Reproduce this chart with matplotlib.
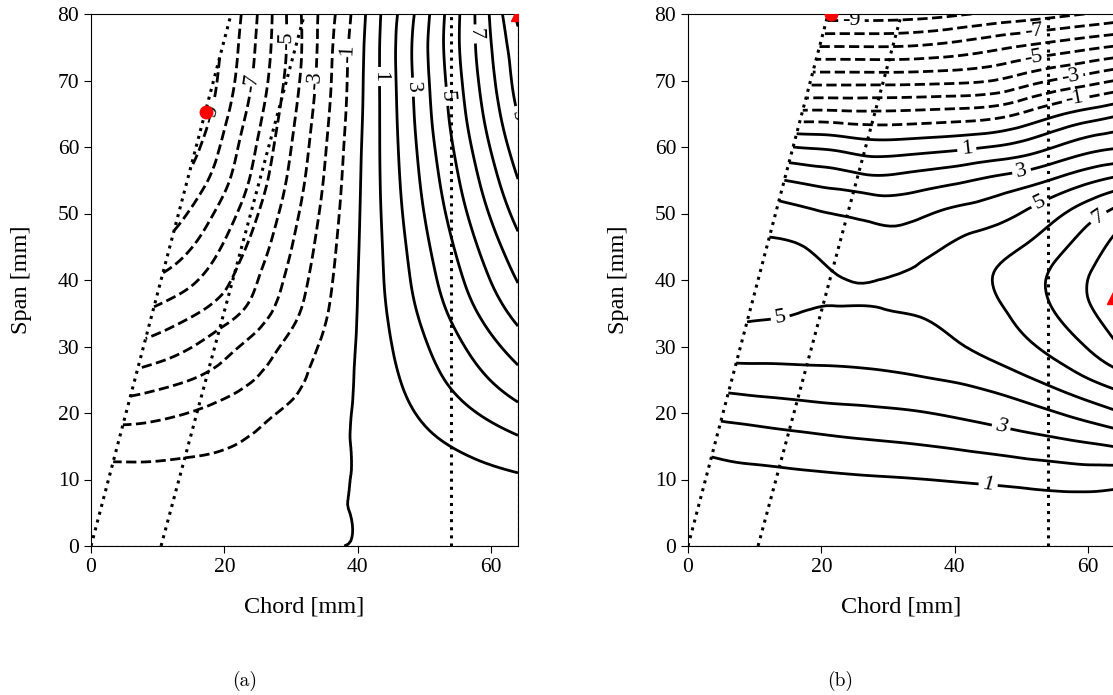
import numpy as np
import matplotlib
matplotlib.use("Agg")
import matplotlib.pyplot as plt
import matplotlib.tri as mtri

plt.rcParams['font.family'] = ['Liberation Serif', 'DejaVu Serif']

# wing planform [mm]
root_chord = 64.0
span_len = 80.0
le_tip = 21.0                      # leading edge chord position at the tip
spar_line = ([10.5, 32.0], [0.0, 80.0])
rib_x = 54.0

# measurement stations: spanwise, and chordwise as fraction of the local chord
span = np.arange(0, 81, 5)
frac = np.linspace(0, 1, 9)

# mode shape (a), rows = span stations (root -> tip), cols = chord fractions (LE -> TE)
mode_a = np.array([
    [-0.1, -0.09, -0.07, -0.05, -0.012, 0.008, 0.03, 0.05, 0.07],
    [-0.3, -0.28, -0.23, -0.16, -0.09, 0.025, 0.12, 0.22, 0.32],
    [-0.7, -0.66, -0.55, -0.37, -0.16, 0.067, 0.33, 0.59, 0.85],
    [-1.35, -1.3, -1.1, -0.72, -0.29, 0.16, 0.67, 1.18, 1.69],
    [-2.4, -2.1, -1.65, -1.05, -0.41, 0.29, 1.08, 1.87, 2.67],
    [-3.6, -3.1, -2.41, -1.55, -0.56, 0.43, 1.50, 2.57, 3.63],
    [-4.74, -4.05, -3.05, -1.89, -0.66, 0.60, 1.89, 3.18, 4.47],
    [-5.8, -5.0, -3.9, -2.36, -0.75, 0.80, 2.31, 3.82, 5.32],
    [-6.8, -5.8, -4.3, -2.54, -0.73, 1.01, 2.69, 4.37, 6.06],
    [-7.67, -6.3, -4.55, -2.62, -0.66, 1.21, 3.04, 4.87, 6.69],
    [-8.3, -6.7, -4.75, -2.66, -0.56, 1.45, 3.42, 5.39, 7.36],
    [-8.85, -7.05, -4.88, -2.65, -0.42, 1.70, 3.79, 5.88, 7.98],
    [-9.2, -7.1, -4.84, -2.55, -0.25, 1.95, 4.15, 6.34, 8.54],
    [-9.35, -7.11, -4.76, -2.42, -0.07, 2.21, 4.49, 6.76, 9.04],
    [-9.2, -7.02, -4.63, -2.23, 0.16, 2.47, 4.77, 7.09, 9.40],
    [-8.9, -6.74, -4.36, -1.97, 0.40, 2.71, 5.03, 7.34, 9.66],
    [-8.6, -6.36, -3.9, -1.8, 0.6, 2.76, 5.11, 7.5, 10.25],
])

# mode shape (b)
mode_b = np.array([
    [0.02, 0.02, 0.02, 0.02, 0.02, 0.02, 0.02, 0.02, 0.02],
    [0.36, 0.40, 0.44, 0.46, 0.48, 0.51, 0.54, 0.57, 0.56],
    [0.71, 0.78, 0.85, 0.91, 0.97, 1.07, 1.2, 1.36, 1.33],
    [1.21, 1.42, 1.6, 1.78, 1.93, 2.15, 2.42, 2.7, 3.03],
    [2.3, 2.5, 2.68, 2.8, 2.95, 3.2, 3.55, 4.1, 4.85],
    [3.44, 3.55, 3.65, 3.75, 3.92, 4.2, 4.75, 5.55, 6.45],
    [4.5, 4.45, 4.42, 4.47, 4.7, 5.1, 5.75, 6.6, 7.85],
    [5.12, 5.01, 4.93, 4.96, 5.1, 5.55, 6.3, 7.35, 8.45],
    [5.3, 5.12, 5.0, 5.05, 5.35, 5.85, 6.55, 7.6, 8.6],
    [5.1, 4.95, 4.43, 4.47, 4.95, 5.5, 6.1, 7.1, 8.25],
    [4.48, 4.1, 3.85, 3.7, 4.15, 4.53, 5.2, 6.2, 7.3],
    [3.0, 2.65, 2.3, 2.4, 2.75, 3.2, 3.7, 4.5, 5.25],
    [1.0, 0.8, 0.45, 0.55, 0.75, 1.05, 1.6, 2.4, 2.9],
    [-1.7, -1.75, -1.8, -1.72, -1.6, -1.35, -0.6, 0.2, 0.8],
    [-4.35, -4.35, -4.35, -4.3, -4.2, -3.9, -3.2, -2.6, -2.0],
    [-6.95, -6.95, -6.95, -6.8, -6.5, -6.1, -5.7, -5.3, -4.9],
    [-9.5, -9.5, -9.45, -9.3, -9.0, -8.7, -8.4, -8.05, -7.7],
])

plain_levels = np.arange(-10, 11, 2)     # drawn, no label
label_levels = np.arange(-9, 10, 2)      # drawn and labelled

# extreme points (min circle, max triangle)
min_a, max_a = (17.3, 65.3), (64.0, 80.0)
min_b, max_b = (21.5, 80.0), (63.9, 37.5)

# where the contour labels sit
labels_a = [(17.3, 65.1), (23.5, 69.6), (29.0, 76.0), (33.0, 70.0), (38.2, 74.0),
            (43.3, 70.6), (48.3, 69.0), (53.1, 67.6), (57.8, 77.0), (63.3, 64.6)]
labels_b = [(24.5, 78.9), (51.8, 77.3), (51.8, 73.6), (57.3, 70.6), (58.0, 67.1),
            (41.8, 59.5), (50.0, 56.3), (52.8, 51.5), (61.3, 49.8), (13.8, 34.5),
            (47.0, 18.2), (45.0, 9.4)]


def mesh():
    le = le_tip * span / span_len
    xs = le[:, None] + frac[None, :] * (root_chord - le)[:, None]
    ys = np.repeat(span[:, None], len(frac), axis=1)
    ni, nj = len(span), len(frac)
    tris = []
    for i in range(ni - 1):
        for j in range(nj - 1):
            a = i * nj + j
            tris.append([a, a + 1, a + nj])
            tris.append([a + 1, a + nj + 1, a + nj])
    return mtri.Triangulation(xs.ravel(), ys.ravel(), np.array(tris))


def draw(ax, mode, label_pos, pmin, pmax, italic_last=0):
    tri = mesh()
    tri_f, z_f = mtri.UniformTriRefiner(tri).refine_field(mode.ravel(), subdiv=3)
    ax.tricontour(tri_f, z_f, levels=plain_levels, colors='k', linewidths=2.0)
    cs = ax.tricontour(tri_f, z_f, levels=label_levels, colors='k', linewidths=2.0)
    txt = ax.clabel(cs, fmt='%d', fontsize=16, inline=True,
                    inline_spacing=4, manual=label_pos)
    if italic_last:
        for t in txt[-italic_last:]:
            t.set_fontstyle('italic')

    ax.plot([0, le_tip], [0, span_len], color='k', ls=':', lw=2.2)
    ax.plot(spar_line[0], spar_line[1], color='k', ls=':', lw=2.2)
    ax.plot([rib_x, rib_x], [0, span_len], color='k', ls=':', lw=2.2)
    ax.plot([0, root_chord, root_chord], [0, 0, span_len], color='k', ls='--', lw=0.8)

    ax.plot(*pmin, 'o', color='red', ms=9, zorder=5)
    ax.plot(*pmax, '^', color='red', ms=10, zorder=5)

    ax.set_xlim(0, root_chord)
    ax.set_ylim(0, span_len)
    ax.set_xticks([0, 20, 40, 60])
    ax.set_yticks(np.arange(0, 81, 10))
    ax.tick_params(labelsize=15.5, length=5)
    ax.set_xlabel('Chord [mm]', fontsize=17.5)
    ax.set_ylabel('Span [mm]', fontsize=17.5)
    ax.yaxis.set_label_coords(-0.138, 0.5)
    ax.xaxis.set_label_coords(0.5, -0.094)


fig = plt.figure(figsize=(11.13, 6.95), dpi=100)
ax_a = fig.add_axes([91 / 1113, 149 / 695, 427 / 1113, 532 / 695])
ax_b = fig.add_axes([688 / 1113, 149 / 695, 427 / 1113, 532 / 695])

draw(ax_a, mode_a, labels_a, min_a, max_a)
draw(ax_b, mode_b, labels_b, min_b, max_b, italic_last=2)

fig.text(245 / 1113, 1 - 681 / 695, '(a)', ha='center', va='center',
         fontsize=14, family=['cmr10', 'DejaVu Serif'])
fig.text(840 / 1113, 1 - 681 / 695, '(b)', ha='center', va='center',
         fontsize=14, family=['cmr10', 'DejaVu Serif'])

fig.savefig('out.png', dpi=100)
